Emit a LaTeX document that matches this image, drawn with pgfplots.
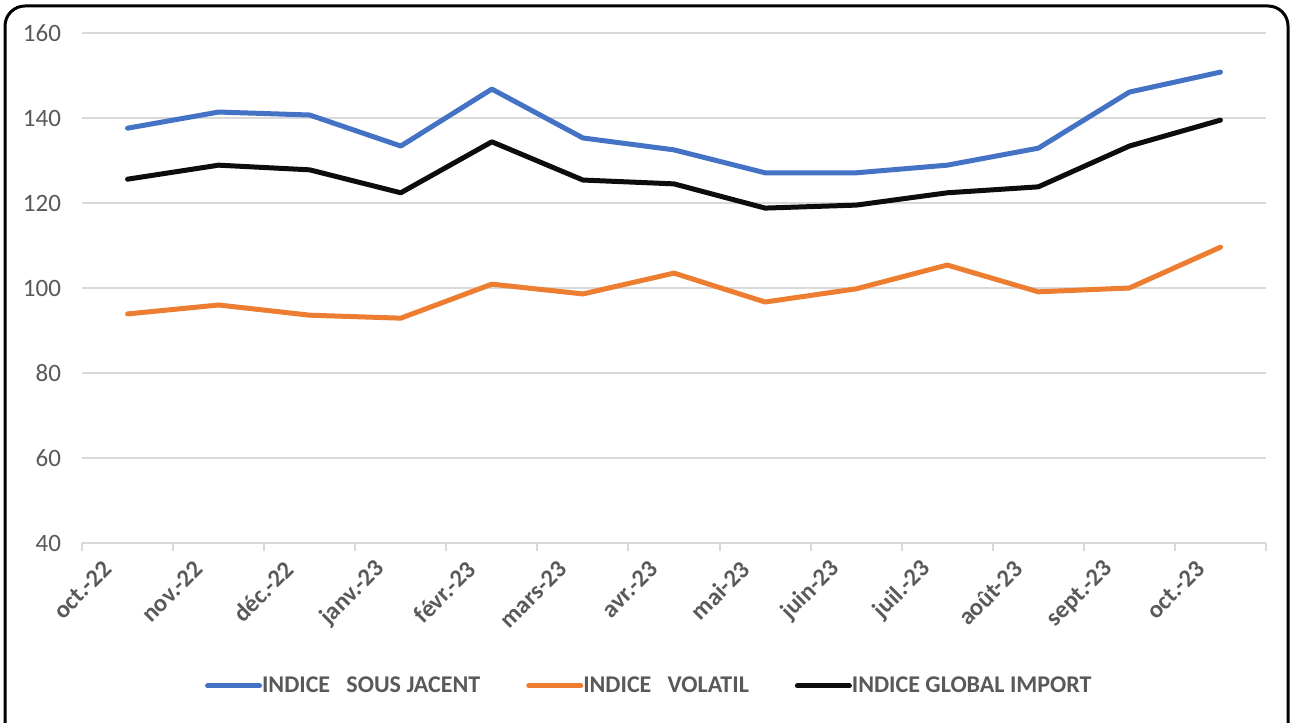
\documentclass[border=0pt]{standalone}
\usepackage{fontspec}
\setmainfont{Carlito}
\usepackage{pgfplots}
\pgfplotsset{compat=1.18}
\definecolor{cBlue}{HTML}{4472C4}
\definecolor{cOrange}{HTML}{ED7D31}
\definecolor{cBlack}{HTML}{0D0D0D}
\definecolor{cText}{HTML}{595959}
\definecolor{cGrid}{HTML}{D9D9D9}

\begin{document}
\begin{tikzpicture}
% page = 1293 x 722 px at 0.5pt per px
\path[use as bounding box] (0pt,0pt) rectangle (646.5pt,361pt);
% frame, open at the bottom (cut off in the original)
\begin{scope}
\clip (0pt,0pt) rectangle (646.5pt,361pt);
\draw[line width=1.5pt, rounded corners=10pt] (2.5pt,-10pt) -- (2.5pt,358pt) -- (644pt,358pt) -- (644pt,-10pt);
\end{scope}

\begin{axis}[
    at={(41pt,89.5pt)}, anchor=south west,
    scale only axis, width=592pt, height=255pt,
    xmin=-0.5, xmax=12.5,
    ymin=40, ymax=160,
    ytick={40,60,...,160},
    xtick={0,...,12},
    xticklabels={oct.-22,nov.-22,déc.-22,janv.-23,févr.-23,mars-23,avr.-23,mai-23,juin-23,juil.-23,août-23,sept.-23,oct.-23},
    minor xtick={-0.5,0.5,...,12.5},
    major tick length=0pt,
    minor tick length=4pt,
    tick align=outside,
    minor tick style={cGrid, line width=1pt},
    axis x line*=bottom, axis y line*=left,
    y axis line style={draw=none},
    x axis line style={cGrid, line width=1pt},
    ymajorgrids, grid style={cGrid, line width=1pt},
    yticklabel style={font=\fontsize{12.5}{14}\selectfont, text=cText, xshift=-7pt},
    xticklabel style={font=\fontsize{12.3}{14}\selectfont\bfseries, text=cText,
        inner sep=0pt, xshift=-10pt, yshift=-11pt, rotate=45, anchor=east},
    /pgf/number format/assume math mode=true,
    legend style={at={(0.48,-0.28)}, anchor=center, legend columns=3, draw=none, fill=none,
        font=\fontsize{12}{14}\selectfont\bfseries, text=cText,
        /tikz/every even column/.append style={column sep=21pt},
        /tikz/every odd column/.append style={column sep=-2pt}},
    legend image code/.code={\draw[#1, line width=2.5pt, line cap=round] (0pt,0pt) -- (26pt,0pt);},
    every axis plot/.append style={line width=2.5pt, line join=round, line cap=round},
    clip=false,
]
\addplot[cBlue] coordinates {
  (0,137.6) (1,141.4) (2,140.7) (3,133.4) (4,146.8) (5,135.3) (6,132.5)
  (7,127.1) (8,127.1) (9,128.9) (10,132.9) (11,146.1) (12,150.8)
};
\addlegendentry{INDICE\ \ \ SOUS JACENT}
\addplot[cOrange] coordinates {
  (0,93.9) (1,96.0) (2,93.6) (3,92.9) (4,100.9) (5,98.6) (6,103.5)
  (7,96.7) (8,99.8) (9,105.4) (10,99.1) (11,100.0) (12,109.6)
};
\addlegendentry{INDICE\ \ \ VOLATIL}
\addplot[cBlack] coordinates {
  (0,125.6) (1,128.9) (2,127.8) (3,122.4) (4,134.4) (5,125.4) (6,124.5)
  (7,118.8) (8,119.5) (9,122.4) (10,123.8) (11,133.4) (12,139.5)
};
\addlegendentry{INDICE GLOBAL IMPORT}
\end{axis}
\end{tikzpicture}
\end{document}
